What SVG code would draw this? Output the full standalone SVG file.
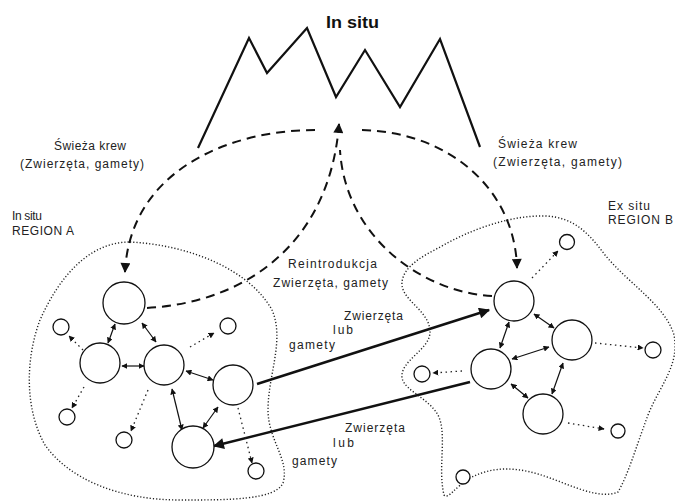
<svg xmlns="http://www.w3.org/2000/svg" width="675" height="503" viewBox="0 0 675 503">
<style>
.lbl{font-family:"Liberation Sans",Arial,sans-serif;font-size:12px;fill:#222}
.ttl{font-family:"Liberation Sans",Arial,sans-serif;font-size:17px;font-weight:bold;fill:#111}
.node{fill:#fff;stroke:#111;stroke-width:1.3}
.sm{fill:#fff;stroke:#111;stroke-width:1.3}
.bound{fill:none;stroke:#222;stroke-width:1.4;stroke-dasharray:1.2 2}
.dash{fill:none;stroke:#111;stroke-width:2;stroke-dasharray:9 6}
.dbl{stroke:#111;stroke-width:1.2;marker-start:url(#sa);marker-end:url(#sa)}
.dot{stroke:#222;stroke-width:1.3;stroke-dasharray:1.5 3.5;marker-end:url(#sa)}
.big{stroke:#111;stroke-width:2.5;marker-end:url(#ba)}
</style>
<defs>
<marker id="sa" viewBox="0 0 10 10" refX="9" refY="5" markerWidth="6" markerHeight="6" markerUnits="userSpaceOnUse" orient="auto-start-reverse"><path d="M0,0L10,5L0,10z" fill="#111"/></marker>
<marker id="ba" viewBox="0 0 10 10" refX="9" refY="5" markerWidth="13" markerHeight="11" markerUnits="userSpaceOnUse" orient="auto"><path d="M0,0L10,5L0,10z" fill="#111"/></marker>
<marker id="da" viewBox="0 0 10 10" refX="9" refY="5" markerWidth="11" markerHeight="10" markerUnits="userSpaceOnUse" orient="auto"><path d="M0,0L10,5L0,10z" fill="#111"/></marker>
</defs>

<g id="mountain">
<polyline points="198,148 249,38 267,73 307,28 336,97 365,50 400,107 440,39 480,147" fill="none" stroke="#111" stroke-width="2.2" stroke-linejoin="miter"/>
</g>

<g id="labels">
<text class="ttl" x="326" y="28" textLength="53" lengthAdjust="spacingAndGlyphs">In situ</text>
<text class="lbl" x="54" y="150" textLength="72" lengthAdjust="spacing">Świeża krew</text>
<text class="lbl" x="20" y="168" textLength="124" lengthAdjust="spacing">(Zwierzęta, gamety)</text>
<text class="lbl" x="498" y="148" textLength="79" lengthAdjust="spacing">Świeża krew</text>
<text class="lbl" x="493" y="166" textLength="129" lengthAdjust="spacing">(Zwierzęta, gamety)</text>
<text class="lbl" x="12" y="220" textLength="30" lengthAdjust="spacing">In situ</text>
<text class="lbl" x="12" y="235" textLength="62" lengthAdjust="spacing">REGION A</text>
<text class="lbl" x="608" y="210" textLength="42" lengthAdjust="spacing">Ex situ</text>
<text class="lbl" x="608" y="224" textLength="65" lengthAdjust="spacing">REGION B</text>
<text class="lbl" x="288" y="268" textLength="89" lengthAdjust="spacing">Reintrodukcja</text>
<text class="lbl" x="273" y="287" textLength="115" lengthAdjust="spacing">Zwierzęta, gamety</text>
<text class="lbl" x="344" y="320" textLength="59" lengthAdjust="spacing">Zwierzęta</text>
<text class="lbl" x="333" y="334" textLength="20" lengthAdjust="spacing">lub</text>
<text class="lbl" x="289" y="349" textLength="46" lengthAdjust="spacing">gamety</text>
<text class="lbl" x="345" y="432" textLength="60" lengthAdjust="spacing">Zwierzęta</text>
<text class="lbl" x="333" y="447" textLength="21" lengthAdjust="spacing">lub</text>
<text class="lbl" x="292" y="465" textLength="45" lengthAdjust="spacing">gamety</text>
</g>

<g id="regionA">
<path class="bound" d="M130,242 C190,245 250,270 272,310 C285,340 268,375 268,410 C268,440 290,460 283,483 C275,500 230,500 180,500 C120,500 70,480 45,445 C25,410 25,360 40,320 C60,275 90,242 130,242 Z"/>
</g>
<g id="regionB">
<path class="bound" d="M442,246 C470,230 510,215 545,216 C575,217 590,235 605,255 C630,285 665,305 674,335 C680,365 660,385 648,415 C635,450 628,475 618,492 C600,500 570,485 550,478 C520,467 495,465 470,478 C455,487 448,500 444,495 C438,470 446,440 440,420 C434,400 405,392 402,378 C400,360 430,350 430,332 C430,310 400,300 402,282 C404,265 425,255 442,246 Z"/>
</g>

<g id="connectors">
<path class="dash" d="M315,130 C230,130 130,170 125,272" marker-end="url(#da)"/>
<path class="dash" d="M362,130 C450,132 515,190 517,268" marker-end="url(#da)"/>
<path class="dash" d="M147,308 C250,302 330,240 339,124" marker-end="url(#da)"/>
<path class="dash" d="M492,296 C420,292 345,235 340,150"/>
<line class="big" x1="257" y1="384" x2="489" y2="310"/>
<line class="big" x1="470" y1="382" x2="214" y2="446"/>
<line class="dbl" x1="115" y1="324" x2="108" y2="343"/>
<line class="dbl" x1="142" y1="323" x2="156" y2="342"/>
<line class="dbl" x1="122" y1="366" x2="144" y2="366"/>
<line class="dbl" x1="186" y1="371" x2="213" y2="380"/>
<line class="dbl" x1="172" y1="389" x2="182" y2="430"/>
<line class="dbl" x1="218" y1="407" x2="203" y2="428"/>
<line class="dot" x1="83" y1="350" x2="69" y2="336"/>
<line class="dot" x1="84" y1="387" x2="72" y2="408"/>
<line class="dot" x1="190" y1="347" x2="214" y2="333"/>
<line class="dot" x1="148" y1="390" x2="131" y2="431"/>
<line class="dot" x1="238" y1="408" x2="252" y2="463"/>
<line class="dbl" x1="534" y1="314" x2="554" y2="328"/>
<line class="dbl" x1="509" y1="322" x2="500" y2="348"/>
<line class="dbl" x1="512" y1="359" x2="549" y2="347"/>
<line class="dbl" x1="511" y1="384" x2="528" y2="398"/>
<line class="dbl" x1="563" y1="363" x2="552" y2="394"/>
<line class="dot" x1="532" y1="278" x2="558" y2="251"/>
<line class="dot" x1="595" y1="343" x2="643" y2="348"/>
<line class="dot" x1="462" y1="371" x2="433" y2="373"/>
<line class="dot" x1="568" y1="423" x2="604" y2="429"/>
</g>

<g id="nodeA1"><circle class="node" cx="124" cy="303" r="21"/></g>
<g id="nodeA2"><circle class="node" cx="100" cy="363" r="20"/></g>
<g id="nodeA3"><circle class="node" cx="164" cy="365" r="20"/></g>
<g id="nodeA4"><circle class="node" cx="233" cy="385" r="20"/></g>
<g id="nodeA5"><circle class="node" cx="193" cy="447" r="21"/></g>
<g id="smA1"><circle class="sm" cx="61" cy="327" r="8"/></g>
<g id="smA2"><circle class="sm" cx="228" cy="326" r="8"/></g>
<g id="smA3"><circle class="sm" cx="67" cy="417" r="8"/></g>
<g id="smA4"><circle class="sm" cx="124" cy="440" r="8"/></g>
<g id="smA5"><circle class="sm" cx="256" cy="471" r="8"/></g>

<g id="nodeB1"><circle class="node" cx="514" cy="301" r="20"/></g>
<g id="nodeB2"><circle class="node" cx="572" cy="340" r="20"/></g>
<g id="nodeB3"><circle class="node" cx="491" cy="369" r="20"/></g>
<g id="nodeB4"><circle class="node" cx="543" cy="414" r="20"/></g>
<g id="smB1"><circle class="sm" cx="567" cy="242" r="7.5"/></g>
<g id="smB2"><circle class="sm" cx="653" cy="350" r="8"/></g>
<g id="smB3"><circle class="sm" cx="422" cy="374" r="8"/></g>
<g id="smB4"><circle class="sm" cx="618" cy="431" r="7"/></g>
<g id="smB5"><circle class="sm" cx="463" cy="477" r="7"/></g>
</svg>
